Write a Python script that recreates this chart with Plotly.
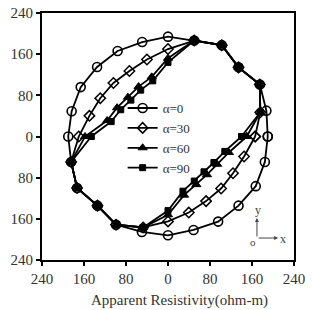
import numpy as np
import plotly.graph_objects as go

azimuth_deg = [0, 15, 30, 45, 60, 75, 90, 105, 120, 135, 150, 165,
               180, 195, 210, 225, 240, 255, 270, 285, 300, 315, 330, 345]

rho_alpha0 = [190, 194, 202, 190, 205, 193, 194, 190, 192, 191, 192, 190,
              190, 191, 200, 190, 198, 192, 192, 188, 191, 190, 193, 191]
rho_alpha30 = [166, 182, 202, 190, 205, 193, 170, 155, 147, 147, 149, 155,
               170, 191, 200, 190, 198, 183, 165, 153, 145, 143, 143, 150]
rho_alpha60 = [150, 182, 202, 190, 205, 193, 152, 120, 112, 108, 112, 120,
               158, 191, 200, 190, 198, 183, 152, 118, 108, 105, 108, 120]
rho_alpha90 = [140, 182, 202, 190, 205, 193, 144, 112, 104, 100, 104, 112,
               146, 191, 200, 190, 198, 183, 144, 110, 100, 97, 101, 112]

series_names = ["α=0", "α=30", "α=60", "α=90"]
tick_values = [-240, -160, -80, 0, 80, 160, 240]
tick_labels = ["240", "160", "80", "0", "80", "160", "240"]

styles = [
    dict(symbol="circle-open", size=9, color="black", line=dict(width=1.6, color="black")),
    dict(symbol="diamond-open", size=8, color="black", line=dict(width=1.5, color="black")),
    dict(symbol="triangle-up", size=8, color="black", line=dict(width=1, color="black")),
    dict(symbol="square", size=6, color="black", line=dict(width=1, color="black")),
]

fig = go.Figure()
theta = np.deg2rad(np.array(azimuth_deg + [azimuth_deg[0]], dtype=float))
for name, rho, st in zip(series_names, [rho_alpha0, rho_alpha30, rho_alpha60, rho_alpha90], styles):
    r = np.array(rho + [rho[0]], dtype=float)
    fig.add_trace(go.Scatter(
        x=r * np.cos(theta), y=r * np.sin(theta), mode="lines+markers", name=name,
        line=dict(color="black", width=1.8), marker=st,
    ))

font_family = "Liberation Serif, Times New Roman, serif"
txt = "#333"
axis_common = dict(
    range=[-240, 240], tickvals=tick_values, ticktext=tick_labels,
    showgrid=False, zeroline=False, showline=True, mirror=True, automargin=False,
    ticklabeloverflow="allow",
    linecolor="black", linewidth=2, ticks="outside", ticklen=4, tickwidth=1.5,
    tickcolor="black", tickfont=dict(family=font_family, size=15, color=txt),
)
fig.update_xaxes(**axis_common)
fig.update_yaxes(**axis_common)

gray = "#444"
fig.update_layout(
    width=312, height=310,
    margin=dict(l=42, r=18, t=13, b=50),
    plot_bgcolor="white", paper_bgcolor="white",
    legend=dict(x=0.32, y=0.676, xanchor="left", yanchor="top", bgcolor="rgba(0,0,0,0)",
                font=dict(family=font_family, size=13, color=txt),
                itemwidth=30, tracegroupgap=0),
    annotations=[
        dict(xref="paper", yref="paper", x=0.544, y=-0.164, xanchor="center", yanchor="middle",
             text="Apparent Resistivity(ohm-m)",
             showarrow=False, font=dict(family=font_family, size=15, color=txt)),
        dict(xref="paper", yref="paper", x=0.853, y=0.170, ax=0, ay=20, text="",
             showarrow=True, arrowhead=2, arrowsize=0.8, arrowwidth=1, arrowcolor=gray),
        dict(xref="paper", yref="paper", x=0.937, y=0.089, ax=-21, ay=0, text="",
             showarrow=True, arrowhead=2, arrowsize=0.8, arrowwidth=1, arrowcolor=gray),
        dict(xref="paper", yref="paper", x=0.859, y=0.202, xanchor="center", yanchor="middle",
             text="y", showarrow=False, font=dict(family=font_family, size=12, color=gray)),
        dict(xref="paper", yref="paper", x=0.837, y=0.073, xanchor="center", yanchor="middle",
             text="o", showarrow=False, font=dict(family=font_family, size=11, color=gray)),
        dict(xref="paper", yref="paper", x=0.958, y=0.087, xanchor="center", yanchor="middle",
             text="x", showarrow=False, font=dict(family=font_family, size=12, color=gray)),
    ],
)

# Remove the default 8px page margin so the 312x310 figure fills the window exactly.
fig.write_html("out.html", config={"displayModeBar": False},
               post_script="document.body.style.margin='0px';")
